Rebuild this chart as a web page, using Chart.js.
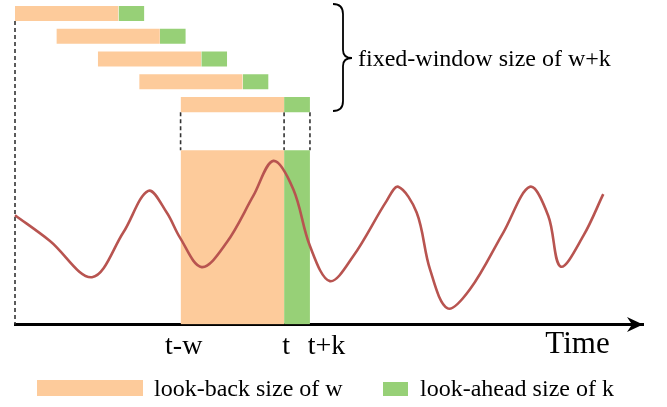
<!DOCTYPE html>
<html><head><meta charset="utf-8">
<script src="https://cdn.jsdelivr.net/npm/chart.js@4.4.1/dist/chart.umd.min.js"></script>
<style>html,body{margin:0;padding:0;background:#fff;overflow:hidden}</style>
</head><body>
<canvas id="c" width="667" height="407"></canvas>
<script>
// ---- data ----
const windowStarts = [0, 4, 8, 12, 16];          // start time of each sliding window
const windowRows = [0, 1, 2, 3, 4];              // row index of each window
const lookBack = 10;                              // w
const lookAhead = 2.5;                            // k
const currentStart = 16;                          // t-w
const tickPositions = [16.3, 26.2, 30.1, 54.35];
const tickLabels = ['t-w', 't', 't+k', 'Time'];
const seriesTime = [0, 3.38, 7.44, 10.46, 12.88, 14.66, 15.94, 18.04, 20.45, 23.02, 24.96, 26.89, 28.5, 30.43, 32.69, 35.91, 37.03, 38.81, 40.1, 41.81, 43.96, 47.18, 49.76, 51.53, 52.72, 54.91, 56.84];
const seriesValue = [6.23, 4.76, 2.69, 5.24, 7.62, 6.38, 4.95, 3.27, 4.67, 7.33, 9.33, 7.71, 4.47, 2.47, 3.90, 7.05, 7.85, 6.38, 3.14, 0.91, 2.0, 5.24, 7.85, 6.19, 3.30, 5.05, 7.43];
const legendLabels = ['look-back size of w', 'look-ahead size of k'];
const braceLabel = 'fixed-window size of w+k';

// ---- layout / style ----
const ORANGE = '#FDCB9B', GREEN = '#97D077', RED = '#B85450', DASH = '#333333';
const FONT = "'Liberation Serif', 'Times New Roman', serif";
const rowHalf = 0.33;           // half bar thickness in row units
const highlightRow = 6;         // top of the highlighted window area (row units)
const rowMin = -0.5934, rowMax = 13.648;
const xMax = 60.68, yMax = 18.51;

function rect(x0, x1, yTop, yBottom, color, order) {
  return {
    data: [{x: x0, y: yTop}, {x: x1, y: yTop}],
    yAxisID: 'y2', borderColor: 'rgba(0,0,0,0)', borderWidth: 0, pointRadius: 0,
    backgroundColor: color, fill: {value: yBottom}, order: order, clip: false
  };
}
function dashed(x, y0, y1) {
  return {
    data: [{x: x, y: y0}, {x: x, y: y1}], yAxisID: 'y2', borderColor: DASH,
    borderWidth: 1.6, borderDash: [4, 3], pointRadius: 0, fill: false, order: 10, clip: false
  };
}

const datasets = [];
datasets.push({
  data: seriesTime.map((t, i) => ({x: t, y: seriesValue[i]})), yAxisID: 'y',
  borderColor: RED, borderWidth: 2.6, pointRadius: 0, tension: 0.35,
  fill: false, order: 0, clip: false
});
datasets.push(rect(currentStart, currentStart + lookBack, highlightRow, rowMax, ORANGE, 2));
datasets.push(rect(currentStart + lookBack, currentStart + lookBack + lookAhead, highlightRow, rowMax, GREEN, 2));
windowStarts.forEach((s, i) => {
  const r = windowRows[i];
  datasets.push(rect(s, s + lookBack, r - rowHalf, r + rowHalf, ORANGE, 3));
  datasets.push(rect(s + lookBack, s + lookBack + lookAhead, r - rowHalf, r + rowHalf, GREEN, 3));
});
const lastRow = windowRows[windowRows.length - 1];
datasets.push(dashed(windowStarts[0], windowRows[0] + rowHalf, rowMax));
[currentStart, currentStart + lookBack, currentStart + lookBack + lookAhead].forEach(x =>
  datasets.push(dashed(x, lastRow + rowHalf, highlightRow)));

const decor = {
  id: 'decor',
  afterDraw(chart) {
    const ctx = chart.ctx, area = chart.chartArea;
    ctx.save();
    // arrow head at the end of time axis
    const ay = Math.round(area.bottom) + 0.5, ax = area.right;
    ctx.fillStyle = '#000';
    ctx.beginPath();
    ctx.moveTo(ax, ay); ctx.lineTo(ax - 16, ay - 7.5); ctx.lineTo(ax - 11, ay);
    ctx.lineTo(ax - 16, ay + 7.5); ctx.closePath(); ctx.fill();
    // brace
    ctx.strokeStyle = '#000'; ctx.lineWidth = 1.8;
    ctx.beginPath();
    ctx.moveTo(333, 4);
    ctx.quadraticCurveTo(343, 4, 343, 14);
    ctx.lineTo(343, 50);
    ctx.quadraticCurveTo(343, 58, 352, 58);
    ctx.quadraticCurveTo(343, 58, 343, 66);
    ctx.lineTo(343, 101);
    ctx.quadraticCurveTo(343, 111, 333, 111);
    ctx.stroke();
    ctx.font = '24px ' + FONT;
    ctx.textBaseline = 'alphabetic'; ctx.textAlign = 'left';
    ctx.fillText(braceLabel, 358, 66);
    // legend
    ctx.fillStyle = ORANGE; ctx.fillRect(37, 380, 106, 16);
    ctx.fillStyle = GREEN; ctx.fillRect(383, 382, 25, 14);
    ctx.fillStyle = '#000';
    ctx.fillText(legendLabels[0], 154, 396);
    ctx.fillText(legendLabels[1], 420, 396);
    ctx.restore();
  }
};

new Chart(document.getElementById('c'), {
  type: 'line',
  data: {datasets},
  options: {
    responsive: false, devicePixelRatio: 1, animation: false, events: [],
    layout: {padding: {left: 15, right: 24, top: 0, bottom: 39}},
    plugins: {legend: {display: false}, tooltip: {enabled: false}},
    scales: {
      x: {
        type: 'linear', min: 0, max: xMax, position: 'bottom', z: 1,
        grid: {display: false, drawTicks: false},
        border: {display: true, color: '#000', width: 3},
        afterBuildTicks: s => { s.ticks = tickPositions.map(v => ({value: v})); },
        ticks: {
          autoSkip: false, maxRotation: 0, minRotation: 0, padding: 5, color: '#000',
          callback: v => { const i = tickPositions.indexOf(v); return i >= 0 ? tickLabels[i] : ''; },
          font: c => (c.tick && c.tick.label === 'Time')
            ? {family: FONT, size: 31, lineHeight: 1.016}
            : {family: FONT, size: 28, lineHeight: 1.2}
        }
      },
      y: {type: 'linear', display: false, min: 0, max: yMax},
      y2: {type: 'linear', display: false, reverse: true, min: rowMin, max: rowMax}
    }
  },
  plugins: [decor]
});
</script>
</body></html>
